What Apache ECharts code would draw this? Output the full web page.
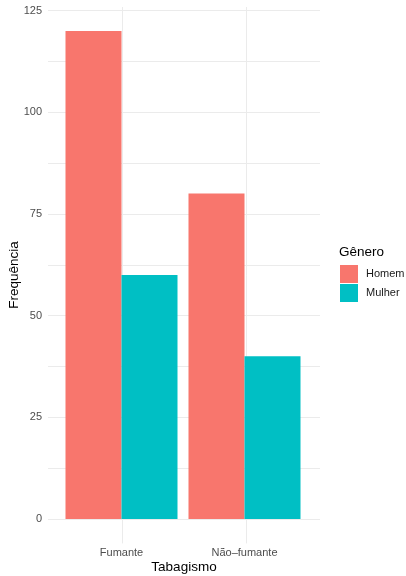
<!DOCTYPE html>
<html><head><meta charset="utf-8">
<script src="https://cdn.jsdelivr.net/npm/echarts@6/dist/echarts.min.js"></script>
<style>html,body{margin:0;padding:0;background:#fff}#c{width:406px;height:576px}</style>
</head><body><div id="c"></div>
<script>
const categories = ['Fumante', 'Não–fumante'];
const homem = [120, 80];
const mulher = [60, 40];
const yTicks = [0, 25, 50, 75, 100, 125];
const seriesNames = ['Homem', 'Mulher'];

const FONT = '"Liberation Sans", Arial, sans-serif';
const GRID = '#EBEBEB';
const chart = echarts.init(document.getElementById('c'), null, {renderer: 'canvas'});
chart.setOption({
  animation: false,
  backgroundColor: '#fff',
  textStyle: {fontFamily: FONT},
  grid: [
    {left: 48, right: 86, top: 10.6, bottom: 57},
    {left: 60, right: 100, top: 10.6, bottom: 57},
    {left: 48, right: 86, top: 7, bottom: 32.6}
  ],
  xAxis: [
    {gridIndex: 0, type: 'value', min: 0, max: 1, show: false},
    {gridIndex: 1, type: 'category', data: categories,
     axisLine: {show: false}, axisTick: {show: false}, splitLine: {show: false},
     axisLabel: {margin: 28, fontSize: 11, color: '#4D4D4D', fontFamily: FONT}},
    {gridIndex: 2, type: 'value', min: 0.4, max: 2.6, show: false}
  ],
  yAxis: [
    {gridIndex: 0, type: 'value', min: yTicks[0], max: yTicks[yTicks.length - 1], interval: 25,
     axisLine: {show: false}, axisTick: {show: false},
     axisLabel: {margin: 6, fontSize: 11, color: '#4D4D4D', fontFamily: FONT},
     splitLine: {show: true, lineStyle: {color: GRID, width: 1}},
     minorTick: {show: false, splitNumber: 2},
     minorSplitLine: {show: true, lineStyle: {color: GRID, width: 1}}},
    {gridIndex: 1, type: 'value', min: 0, max: 125, show: false},
    {gridIndex: 2, type: 'value', min: 0, max: 1, show: false}
  ],
  legend: {
    data: seriesNames, orient: 'vertical', left: 340, top: 265,
    itemWidth: 18, itemHeight: 18, itemGap: 1, icon: 'rect', padding: 0,
    textStyle: {fontSize: 11, color: '#1A1A1A', fontFamily: FONT, padding: [0, 0, 0, 3]}
  },
  graphic: [
    {type: 'text', x: 14, y: 275, rotation: Math.PI / 2,
     style: {text: 'Frequência', fill: '#000', font: '13.5px ' + FONT, textAlign: 'center', textVerticalAlign: 'middle'}},
    {type: 'text', x: 184, y: 567,
     style: {text: 'Tabagismo', fill: '#000', font: '13.5px ' + FONT, textAlign: 'center', textVerticalAlign: 'middle'}},
    {type: 'text', x: 339, y: 252,
     style: {text: 'Gênero', fill: '#000', font: '13.5px ' + FONT, textAlign: 'left', textVerticalAlign: 'middle'}}
  ],
  series: [
    {type: 'line', xAxisIndex: 2, yAxisIndex: 2, data: [], z: 0, silent: true,
     markLine: {silent: true, symbol: 'none', label: {show: false}, z: 0,
       lineStyle: {color: GRID, width: 1, type: 'solid'},
       data: [{xAxis: 1}, {xAxis: 2}]}},
    {name: seriesNames[0], type: 'bar', xAxisIndex: 1, yAxisIndex: 1, data: homem,
     itemStyle: {color: '#F8766D', borderWidth: 0}, barGap: '0%', barWidth: 56, z: 3},
    {name: seriesNames[1], type: 'bar', xAxisIndex: 1, yAxisIndex: 1, data: mulher,
     itemStyle: {color: '#00BFC4', borderWidth: 0}, barGap: '0%', barWidth: 56, z: 3}
  ]
});
</script></body></html>
